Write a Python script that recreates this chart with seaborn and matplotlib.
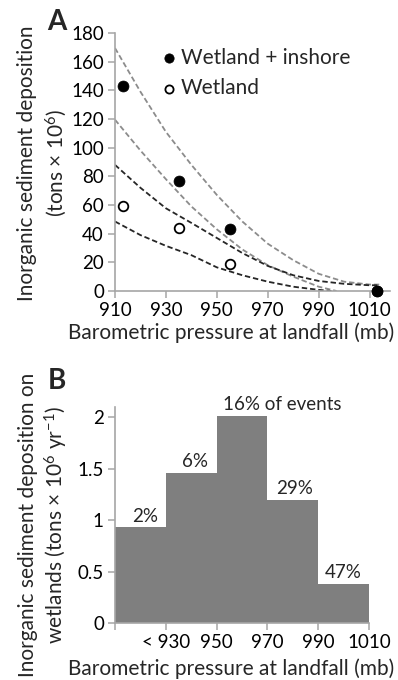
import matplotlib
matplotlib.use("Agg")
import matplotlib.pyplot as plt
import seaborn as sns
import numpy as np
import pandas as pd

sns.set_theme(style="white")
plt.rcParams['font.family'] = ['Lato', 'DejaVu Sans']
plt.rcParams['mathtext.fontset'] = 'custom'
plt.rcParams['mathtext.rm'] = 'Lato'
plt.rcParams['mathtext.it'] = 'Lato:italic'

# ---- Panel A data ----
pressure_pts = [913, 935, 955, 1013]
wetland_inshore = [143, 77, 43, 0]
wetland = [59, 44, 19, 0]

curve_x = [910, 920, 930, 940, 950, 960, 970, 980, 990, 1000, 1010, 1014]
upper_grey = [169.5, 139, 111, 88, 67, 48.5, 33, 21.5, 12, 6.5, 4.5, 4.5]
lower_grey_x = [910, 920, 930, 940, 950, 960, 970, 980, 990, 997]
lower_grey = [119.5, 98, 78, 59, 43, 29, 18, 10, 3, 0]
upper_black = [88, 72, 57.7, 47.5, 37, 26.5, 17.5, 11, 7, 5, 4, 4]
lower_black_x = [910, 920, 930, 940, 950, 960, 970, 980, 990, 995]
lower_black = [48.5, 39, 31.5, 25, 16.5, 11, 6.5, 3, 0.8, 0]

# ---- Panel B data ----
bin_edges = [910, 930, 950, 970, 990, 1010]
bin_centers = [920, 940, 960, 980, 1000]
deposition = [0.93, 1.46, 2.01, 1.2, 0.38]
pct_labels = ["2%", "6%", "16% of events", "29%", "47%"]
b_tick_pos = [910, 930, 950, 970, 990, 1010]
b_tick_labels = ["", "< 930", "950", "970", "990", "1010"]

W, H = 398, 680
fig = plt.figure(figsize=(W / 100, H / 100), dpi=100)

spine_c = "#a6a6a6"
fs_tick = 13.5
fs_lab = 15


def style(ax):
    for s in ["top", "right"]:
        ax.spines[s].set_visible(False)
    for s in ["left", "bottom"]:
        ax.spines[s].set_color(spine_c)
        ax.spines[s].set_linewidth(1.2)
    ax.tick_params(axis="both", which="major", direction="out", length=5,
                   width=1.1, color=spine_c, labelsize=fs_tick, labelcolor="black",
                   left=True, bottom=True, pad=3)
    ax.grid(False)


# Panel A
axA = fig.add_axes([115 / W, 1 - 291 / H, 275 / W, 258 / H])
style(axA)
for xs, ys, col in [(curve_x, upper_grey, "#8c8c8c"), (lower_grey_x, lower_grey, "#8c8c8c"),
                    (curve_x, upper_black, "#262626"), (lower_black_x, lower_black, "#262626")]:
    sns.lineplot(x=xs, y=ys, ax=axA, color=col, linewidth=1.3, linestyle=(0, (3.0, 1.6)),
                 sort=False, estimator=None)

sns.scatterplot(x=pressure_pts, y=wetland, ax=axA, marker="o", s=48, facecolor="white",
                edgecolor="black", linewidth=1.3, zorder=3, label="Wetland", clip_on=False)
sns.scatterplot(x=pressure_pts, y=wetland_inshore, ax=axA, marker="o", s=62, color="black",
                edgecolor="black", linewidth=0.5, zorder=4, label="Wetland + inshore", clip_on=False)
axA.set_xlim(910, 1018)
axA.set_ylim(0, 180)
axA.set_xticks([910, 930, 950, 970, 990, 1010])
axA.set_yticks(range(0, 181, 20))
h, l = axA.get_legend_handles_labels()
leg = axA.legend(h[::-1], l[::-1], loc="upper left", bbox_to_anchor=(0.125, 0.975), frameon=False,
                 fontsize=15, handletextpad=0.0, labelspacing=0.5, borderaxespad=0,
                 handlelength=1.1, markerscale=0.85)
axA.set_xlabel("")
axA.set_ylabel("")
fig.text(231 / W, 1 - 333 / H, "Barometric pressure at landfall (mb)", ha="center", va="center",
         fontsize=fs_lab)
fig.text(27 / W, 1 - 163 / H, "Inorganic sediment deposition", rotation=90, ha="center",
         va="center", fontsize=fs_lab)
fig.text(56 / W, 1 - 163 / H, "(tons × 10$^{6}$)", rotation=90, ha="center", va="center",
         fontsize=fs_lab)
fig.text(57 / W, 1 - 22 / H, "A", ha="center", va="center", fontsize=20, fontweight="bold")

# Panel B
axB = fig.add_axes([115 / W, 1 - 623.3 / H, 254 / W, 216.6 / H])
style(axB)
sns.histplot(x=bin_centers, weights=deposition, bins=bin_edges, ax=axB, color="#7f7f7f",
             alpha=1, edgecolor="none", linewidth=0, stat="count")
axB.set_xlim(910, 1010)
axB.set_ylim(0, 2.1)
axB.set_xticks(b_tick_pos)
axB.set_xticklabels(b_tick_labels)
axB.set_yticks([0, 0.5, 1, 1.5, 2])
axB.set_yticklabels(["0", "0.5", "1", "1.5", "2"])
axB.set_xlabel("")
axB.set_ylabel("")
label_x = [922, 941.5, 952.5, 980.5, 1000]
label_ha = ["center", "center", "left", "center", "center"]
for x, y, t, ha in zip(label_x, deposition, pct_labels, label_ha):
    axB.annotate(t, (x, y), xytext=(0, 2), textcoords="offset points", ha=ha, va="bottom",
                 fontsize=fs_tick, annotation_clip=False)
fig.text(231 / W, 1 - 669 / H, "Barometric pressure at landfall (mb)", ha="center", va="center",
         fontsize=fs_lab)
fig.text(28 / W, 1 - 525 / H, "Inorganic sediment deposition on", rotation=90, ha="center",
         va="center", fontsize=fs_lab)
fig.text(56 / W, 1 - 525 / H, "wetlands (tons × 10$^{6}$ yr$^{-1}$)", rotation=90, ha="center",
         va="center", fontsize=fs_lab)
fig.text(57 / W, 1 - 381 / H, "B", ha="center", va="center", fontsize=20, fontweight="bold")

fig.savefig("out.png", dpi=100)
